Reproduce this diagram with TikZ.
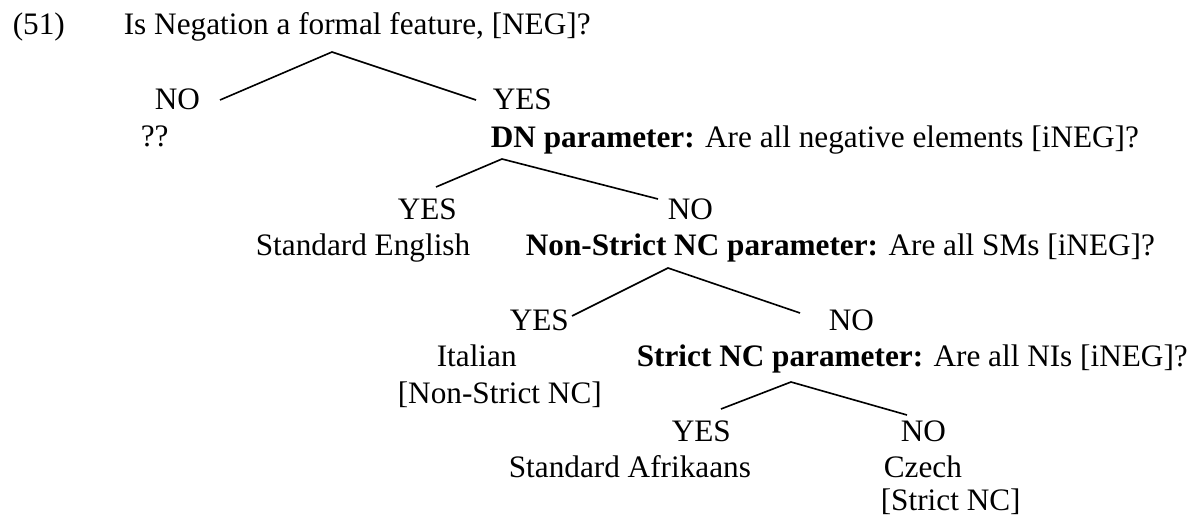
\documentclass[tikz,border=0pt]{standalone}
\usepackage{fontspec}
\setmainfont{Liberation Serif}
\begin{document}
\begin{tikzpicture}[x=0.4pt, y=-0.4pt, line width=0.65pt,
    lbl/.style={anchor=base west, inner sep=0pt, font=\fontsize{12.5}{15}\selectfont}]
  \useasboundingbox (0,0) rectangle (1201,517);

  \node[lbl] (num)   at (12,35)   {(51)};
  \node[lbl] (q1)    at (123,35)  {Is Negation a formal feature, [NEG]?};

  \node[lbl] (no1)   at (154,110) {NO};
  \node[lbl] (unk)   at (140,147) {??};
  \node[lbl] (yes1)  at (492,110) {YES};
  \node[lbl] (q2)    at (490,148) {\textbf{DN parameter:} Are all negative elements [iNEG]?};

  \node[lbl] (yes2)  at (397,220) {YES};
  \node[lbl] (eng)   at (255,256) {Standard English};
  \node[lbl] (no2)   at (667,220) {NO};
  \node[lbl] (q3)    at (525,256) {\textbf{Non-Strict NC parameter:} Are all SMs [iNEG]?};

  \node[lbl] (yes3)  at (509,331) {YES};
  \node[lbl] (ita)   at (436,367) {Italian};
  \node[lbl] (itanc) at (397,404) {[Non-Strict NC]};
  \node[lbl] (no3)   at (828,331) {NO};
  \node[lbl] (q4)    at (636,367) {\textbf{Strict NC parameter:} Are all NIs [iNEG]?};

  \node[lbl] (yes4)  at (671,442) {YES};
  \node[lbl] (afr)   at (508,478) {Standard Afrikaans};
  \node[lbl] (no4)   at (900,442) {NO};
  \node[lbl] (cze)   at (883,478) {Czech};
  \node[lbl] (czenc) at (880,511) {[Strict NC]};

  % branch points
  \coordinate (top1) at (332,52);
  \coordinate (l1)   at (220,100);
  \coordinate (r1)   at (476,100);
  \coordinate (top2) at (502,159);
  \coordinate (l2)   at (436,187);
  \coordinate (r2)   at (658,199);
  \coordinate (top3) at (668,268);
  \coordinate (l3)   at (572,316);
  \coordinate (r3)   at (800,313);
  \coordinate (top4) at (791,382);
  \coordinate (l4)   at (721,409);
  \coordinate (r4)   at (907,415);

  \draw (l1) -- (top1) -- (r1);
  \draw (l2) -- (top2) -- (r2);
  \draw (l3) -- (top3) -- (r3);
  \draw (l4) -- (top4) -- (r4);
\end{tikzpicture}
\end{document}
